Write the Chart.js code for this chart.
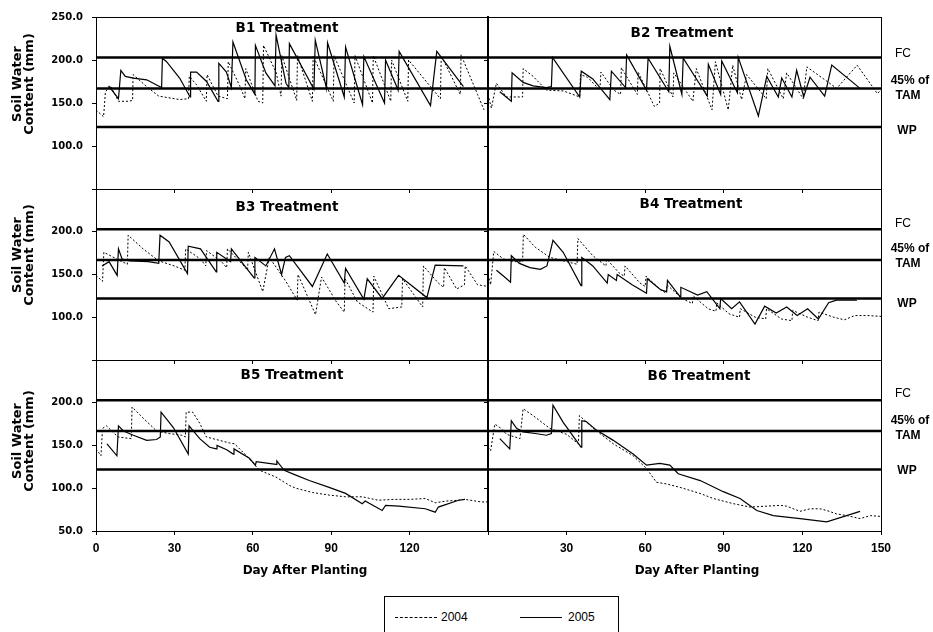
<!DOCTYPE html>
<html>
<head>
<meta charset="utf-8">
<script src="https://cdn.jsdelivr.net/npm/chart.js@4"></script>
<style>
  body { margin: 0; background: #fff; width: 933px; height: 632px; overflow: hidden; position: relative; }
  canvas.panel { position: absolute; left: 0; top: 0; }
  .lbl { position: absolute; transform: translate(-50%, -50%); white-space: nowrap; color: #000; }
  .ttl { font: bold 13.5px "DejaVu Sans", sans-serif; }
  .ytl { font: bold 13px "DejaVu Sans", sans-serif; line-height: 12px; text-align: center; transform: translate(-50%, -50%) rotate(-90deg); }
  .xtl { font: bold 12px "DejaVu Sans", sans-serif; }
  .side { font: bold 12px "Liberation Sans", Arial, sans-serif; }
  .side.fc { font-weight: normal; }
  #legend { position: absolute; left: 384px; top: 596px; width: 233px; height: 60px; border: 1px solid #000; font: 12px "Liberation Sans", Arial, sans-serif; }
  #legend .s { position: absolute; width: 42px; height: 0; }
  #legend .t { position: absolute; top: 13px; }
</style>
</head>
<body>
<div id="legend">
  <div class="s" style="left:10px;top:20px;border-top:1px dashed #000;"></div><div class="t" style="left:56px;">2004</div>
  <div class="s" style="left:135px;top:20px;border-top:1px solid #000;"></div><div class="t" style="left:183px;">2005</div>
</div>
<script>
// day after planting, soil water content (mm)
const b1_2004 = [[0,142],[2.9,134],[3.6,163],[5.5,170],[8.6,152],[12.4,152],[14.0,153],[14.2,183],[19.4,169],[24,158],[32,154],[35.4,155],[35.7,181],[38.5,171],[42.2,152],[42.5,183],[46.7,158],[50.3,155],[50.6,198],[55,170],[57,155],[57.3,190],[62,152],[63.8,150],[64.1,217],[69,185],[70.8,158],[71.1,205],[76.8,153],[77.1,205],[82.8,152],[83.1,205],[90.8,152],[91.1,205],[98.8,150],[99.1,205],[105.8,150],[106.1,205],[112.8,152],[113.1,200],[119.3,152],[119.6,200],[131.8,155],[132.1,205],[139.4,160],[139.7,206],[146,160],[148.5,142]];
const b1_2005 = [[4.8,170],[8.6,155],[9.5,188],[11.2,181],[14.3,179],[19.4,177],[23.2,171],[25.1,168],[25.4,202],[27,198],[32,179],[36,157],[36.2,186],[38.5,186],[42.3,175],[46.7,152],[47,196],[49.9,186],[51.8,168],[52.4,221],[57.5,177],[60.8,160],[61,217],[65,185],[68.5,170],[68.9,229],[72.7,173],[73.8,168],[74,219],[83.4,166],[83.9,223],[88.2,167],[88.6,220],[95,157],[95.5,215],[102,148],[102.5,204],[110.4,150],[110.8,200],[115.6,165],[116,210],[128,147],[130.4,210],[140.6,169]];

const b2_2004 = [[0,160],[1.3,144],[3.2,173],[7,157],[10.8,157],[13.2,157],[13.4,190],[17.2,181],[22.3,165],[28.8,164],[35,157],[35.3,183],[38,180],[42.7,165],[43.1,186],[48,165],[50.6,160],[50.9,191],[55,170],[57,160],[57.3,186],[63.5,146],[65.5,150],[65.7,190],[70.6,157],[70.9,185],[78.2,152],[79.5,190],[85.5,142],[86.8,198],[91.7,142],[93.4,194],[96.8,154],[98.7,183],[106.2,155],[106.8,190],[112.7,155],[114,185],[120.3,155],[121.7,192],[133.1,167],[140.9,194],[148.6,161],[150,165]];
const b2_2005 = [[4.5,163],[8.9,152],[9.2,185],[13.4,174],[17.2,170],[22.3,168],[24.2,169],[24.6,203],[35,157],[35.6,187],[40,178],[46.5,154],[47.1,187],[52.5,168],[52.9,206],[60.5,165],[61.1,202],[69,163],[69.4,216],[74,160],[74.5,202],[83.7,158],[84.1,195],[88.8,160],[89.2,199],[95.2,162],[95.5,203],[103.2,135],[106.4,181],[110.8,157],[112.1,179],[116,157],[117.8,188],[120.5,157],[122.9,180],[128.5,158],[131.2,194],[142,167]];

const b3_2004 = [[0,149],[2.5,142],[3,176],[8,168],[12,162],[12.3,196],[18,180],[24,166],[30,160],[34,155],[34.3,180],[40,168],[42,160],[42.3,178],[48,165],[50,158],[50.3,180],[56,162],[58,155],[58.3,176],[63.8,130],[66.3,170],[72,145],[77,120],[77.3,150],[84,103],[86.3,147],[92,118],[95,106],[95.3,145],[100,118],[106,106],[106.3,148],[112,110],[117,112],[117.3,145],[122,125],[125,112],[125.3,160],[131,140],[133,135],[133.3,158],[138,133],[141,138],[141.3,160],[146,138],[150,136]];
const b3_2005 = [[2.3,160],[5,165],[8.1,149],[8.6,180],[10,168],[13,166],[20,165],[24,163],[24.5,196],[28,188],[35,151],[35.3,183],[40,180],[46,153],[46.2,176],[51.5,165],[51.8,180],[60.5,146],[60.8,170],[65,160],[68.3,180],[71,150],[72.5,170],[74,172],[82.8,136],[88.5,174],[95,140],[95.5,157],[102.5,121],[103.8,145],[109.5,122],[115.8,149],[126.6,123],[129.8,161],[140.6,160]];

const b4_2004 = [[0,150],[1,138],[2.2,177],[6,168],[10,165],[13.2,165],[13.5,197],[18,182],[23.6,170],[30,165],[34,162],[34.3,192],[40,172],[45,160],[45.3,168],[50,152],[52,148],[52.3,160],[58,140],[60,136],[60.3,148],[66,132],[68,128],[68.3,138],[74,122],[78,116],[78.3,125],[84,110],[87,107],[87.3,117],[92,104],[96,100],[96.3,110],[102,100],[106,98],[106.3,110],[112,98],[116,96],[116.3,108],[122,100],[126,96],[126.3,106],[132,100],[136,97],[140,102],[145,102],[150,101]];
const b4_2005 = [[3.2,155],[6,148],[8.6,141],[8.9,172],[12,163],[16,158],[20,156],[22.5,160],[24.8,190],[28.7,176],[35.5,137],[35.8,170],[40,160],[45.5,140],[45.9,150],[49,143],[49.3,150],[55,138],[60.5,128],[60.8,145],[66,132],[68.2,130],[68.5,143],[73.3,124],[73.6,135],[80,126],[83.5,130],[88.5,110],[88.8,122],[93,110],[96,118],[101.9,92],[105.6,113],[110,105],[114,112],[118,102],[122,110],[126.1,98],[130,117],[133,120],[140.8,120]];

const b5_2004 = [[0,146],[1.9,138],[2.5,170],[4,173],[8.4,160],[13.5,158],[13.8,195],[18.4,181],[23.2,167],[28,164],[32.8,162],[34.2,160],[34.5,189],[37,189],[39.7,176],[42.2,160],[46,157],[51,153],[53,152],[57.6,138],[62.6,121],[68.9,113],[74.2,103],[76.5,100],[82.9,95],[89.2,92],[95.5,90],[101.9,90],[108,86],[114,87],[120,87],[126,88],[129.8,83],[134,85],[138.7,86],[141.2,87],[147.3,84],[150,84]];
const b5_2005 = [[4.2,152],[8,138],[8.6,173],[10.5,167],[14.3,162],[19.4,156],[23.2,157],[24.6,160],[24.9,189],[29.6,171],[35.3,140],[35.6,173],[39.7,158],[43.5,148],[46,146],[46.3,150],[50,145],[52.5,140],[52.8,146],[58.7,135],[61,127],[61.3,131],[68.9,128],[69.2,132],[72,121],[76,116],[81.6,109],[89.2,101],[95.5,94],[101.9,82],[103,85],[109.5,74],[110.8,80],[115.9,79],[126,76],[129.8,72],[131,78],[138.7,86],[141.2,87]];

const b6_2004 = [[0,148],[1,144],[2.6,175],[5,170],[7.1,163],[12.2,158],[13.4,193],[17.2,185],[23.6,170],[30,163],[34.5,152],[34.9,185],[40.2,170],[47.8,152],[55.4,138],[60.5,123],[64.3,107],[68.2,105],[73.3,101],[80.9,94],[86,88],[93.6,82],[100,78],[106,79],[111.5,80],[114,79],[119.1,73],[123,76],[126.7,76],[129.3,74],[133,70],[137,68],[142,64.5],[146,68],[150,67]];
const b6_2005 = [[4.5,158],[8.3,146],[8.9,179],[10.9,170],[13.4,166],[18,164],[22.3,162],[24.2,164],[24.8,197],[28.7,177],[35.5,148],[35.8,179],[37.5,178],[41.4,168],[47.8,156],[55.4,140],[60.5,127],[65.6,129],[69.4,127],[72.6,117],[81,109],[89.8,96],[96.2,88],[102.6,74],[108.9,68],[119.1,64.5],[129.3,60.6],[142,73]];

// FC, 45% of TAM, WP
const refLevels = [203, 167, 122];
const refNames = ['FC', '45% of TAM', 'WP'];
const xTicks = [0, 30, 60, 90, 120, 150];
const yTicks = [50, 100, 150, 200, 250];
const panelTitles = ['B1 Treatment', 'B2 Treatment', 'B3 Treatment', 'B4 Treatment', 'B5 Treatment', 'B6 Treatment'];

const panels = [
  { title: panelTitles[0], col: 0, row: 0, s04: b1_2004, s05: b1_2005, tx: 287, ty: 27 },
  { title: panelTitles[1], col: 1, row: 0, s04: b2_2004, s05: b2_2005, tx: 682, ty: 32 },
  { title: panelTitles[2], col: 0, row: 1, s04: b3_2004, s05: b3_2005, tx: 287, ty: 206 },
  { title: panelTitles[3], col: 1, row: 1, s04: b4_2004, s05: b4_2005, tx: 691, ty: 203 },
  { title: panelTitles[4], col: 0, row: 2, s04: b5_2004, s05: b5_2005, tx: 292, ty: 374 },
  { title: panelTitles[5], col: 1, row: 2, s04: b6_2004, s05: b6_2005, tx: 699, ty: 375 }
];

const colX = [[96, 488], [488, 881]];
const rowY = [[17, 189], [189, 360], [360, 531]];
// which y labels each row shows on the left column
const yShown = [[250, 200, 150, 100], [200, 150, 100], [200, 150, 100, 50]];

const toXY = (arr) => arr.map(([d, v]) => ({ x: d, y: v }));

// thin frame round every plot area
const framePlugin = {
  id: 'frame',
  afterDraw(chart) {
    const a = chart.chartArea, ctx = chart.ctx;
    ctx.save();
    ctx.strokeStyle = '#000';
    ctx.lineWidth = 1;
    ctx.strokeRect(a.left + 0.5, a.top + 0.5, a.right - a.left, a.bottom - a.top);
    ctx.restore();
  }
};

const label = (text, x, y, cls) => {
  const el = document.createElement('div');
  el.className = 'lbl ' + cls;
  el.style.left = x + 'px';
  el.style.top = y + 'px';
  el.innerHTML = text;
  document.body.appendChild(el);
};

const AXW = 60, AXH = 40;

panels.forEach((p) => {
  const [x0, x1] = colX[p.col];
  const [y0, y1] = rowY[p.row];
  const canvas = document.createElement('canvas');
  canvas.width = 933;
  canvas.height = 632;
  canvas.className = 'panel';
  document.body.appendChild(canvas);

  const refSets = refLevels.map((lv, i) => ({
    label: refNames[i],
    data: [{ x: 0, y: lv }, { x: 150, y: lv }],
    borderColor: '#000',
    borderWidth: 2.5
  }));

  new Chart(canvas, {
    type: 'line',
    data: {
      datasets: [
        ...refSets,
        { label: '2004', data: toXY(p.s04), borderColor: '#000', borderWidth: 1, borderDash: [2, 2] },
        { label: '2005', data: toXY(p.s05), borderColor: '#000', borderWidth: 1.2 }
      ]
    },
    options: {
      responsive: false,
      animation: false,
      devicePixelRatio: 1,
      layout: { padding: { left: x0 - AXW, right: 933 - x1, top: y0, bottom: 632 - y1 - AXH } },
      elements: { point: { radius: 0 }, line: { tension: 0 } },
      plugins: { legend: { display: false }, tooltip: { enabled: false } },
      scales: {
        x: {
          type: 'linear', min: 0, max: 150,
          afterFit: (s) => { s.height = AXH; },
          afterBuildTicks: (s) => { s.ticks = xTicks.map((v) => ({ value: v })); },
          grid: { drawOnChartArea: false, drawTicks: true, tickLength: 4, color: '#000', lineWidth: 1 },
          border: { display: true, color: '#000', width: 1 },
          ticks: {
            display: p.row === 2,
            autoSkip: false, maxRotation: 0, padding: 6, color: '#000',
            font: { family: '"Liberation Sans", Arial, sans-serif', size: 12, weight: 'bold' },
            callback: (v) => {
              if (p.col === 0 && v === 150) return '';
              if (p.col === 1 && v === 0) return '';
              return String(v);
            }
          }
        },
        y: {
          min: 50, max: 250,
          afterFit: (s) => { s.width = AXW; },
          afterBuildTicks: (s) => { s.ticks = yTicks.map((v) => ({ value: v })); },
          grid: { drawOnChartArea: false, drawTicks: true, tickLength: 4, color: '#000', lineWidth: 1 },
          border: { display: true, color: '#000', width: p.col === 1 ? 2 : 1 },
          ticks: {
            display: p.col === 0,
            autoSkip: false, padding: 9, color: '#000',
            font: { family: '"DejaVu Sans", sans-serif', size: 10, weight: 'bold' },
            callback: (v) => (yShown[p.row].includes(v) ? v.toFixed(1) : '')
          }
        }
      }
    },
    plugins: [framePlugin]
  });

  label(p.title, p.tx, p.ty, 'ttl');
});

// axis titles
[84, 255, 441].forEach((y) => label('Soil Water<br>Content (mm)', 23, y, 'ytl'));
label('Day After Planting', 305, 570, 'xtl');
label('Day After Planting', 697, 570, 'xtl');

// reference line names on the right
const sideY = [[53, 80, 95, 130], [223, 248, 263, 303], [393, 420, 435, 470]];
sideY.forEach(([fc, t1, t2, wp]) => {
  label('FC', 903, fc, 'side fc');
  label('45% of', 910, t1, 'side');
  label('TAM', 908, t2, 'side');
  label('WP', 907, wp, 'side');
});
</script>
</body>
</html>
